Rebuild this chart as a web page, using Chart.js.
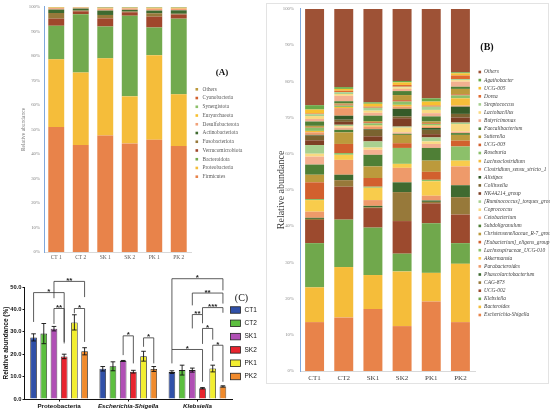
<!DOCTYPE html>
<html>
<head>
<meta charset="utf-8">
<script src="https://cdn.jsdelivr.net/npm/chart.js@4.4.1/dist/chart.umd.min.js"></script>
<style>
  body { margin: 0; background: #fff; width: 550px; height: 413px; overflow: hidden; position: relative; }
  .box { position: absolute; }
  #frameB { position: absolute; left: 266px; top: 3px; width: 281px; height: 379px; border: 1px solid #e3e3e3; }
</style>
</head>
<body>
<div id="frameB"></div>
<div class="box" style="left:0;top:0;width:270px;height:264px"><canvas id="phylum"></canvas></div>
<div class="box" style="left:267px;top:0;width:283px;height:385px"><canvas id="genus"></canvas></div>
<div class="box" style="left:0;top:262px;width:270px;height:151px"><canvas id="sig"></canvas></div>
<script>
// ---- data ----
const samplesA = ['CT 1', 'CT 2', 'SK 1', 'SK 2', 'PK 1', 'PK 2'];
const samplesB = ['CT1', 'CT2', 'SK1', 'SK2', 'PK1', 'PK2'];
const yTicksPct = [0, 10, 20, 30, 40, 50, 60, 70, 80, 90, 100];

// phylum level, bottom to top
const phyla = ['Firmicutes', 'Proteobacteria', 'Bacteroidota', 'Verrucomicrobiota', 'Fusobacteriota',
  'Actinobacteriota', 'Desulfobacterota', 'Euryarchaeota', 'Synergistota', 'Cyanobacteria', 'Others'];
const firmicutes        = [51.0, 43.7, 47.5, 44.3, 45.8, 43.2];
const proteobacteria    = [27.6, 29.5, 31.5, 19.2, 34.5, 21.2];
const bacteroidota      = [13.7, 23.8, 13.0, 32.9, 11.3, 30.8];
const verrucomicrobiota = [2.9, 1.2, 3.3, 1.4, 4.4, 1.7];
const fusobacteriota    = [2.3, 0.3, 1.4, 0.3, 1.4, 0.3];
const actinobacteriota  = [1.4, 0.8, 1.8, 0.7, 1.1, 1.4];
const desulfobacterota  = [0.6, 0.4, 0.8, 0.6, 0.8, 0.7];
const euryarchaeota     = [0.2, 0.1, 0.2, 0.2, 0.3, 0.3];
const synergistota      = [0.1, 0.1, 0.2, 0.2, 0.2, 0.2];
const cyanobacteria     = [0.1, 0.1, 0.1, 0.1, 0.1, 0.1];
const othersA           = [0.1, 0.0, 0.2, 0.1, 0.1, 0.1];
const phylaValues = [firmicutes, proteobacteria, bacteroidota, verrucomicrobiota, fusobacteriota,
  actinobacteriota, desulfobacterota, euryarchaeota, synergistota, cyanobacteria, othersA];
const phylaColors = ['#E8834A', '#F5BD3A', '#72AA4E', '#A0472C', '#97793A', '#3F6A30',
  '#F1A27A', '#F8C030', '#8CC06A', '#D2602E', '#BC9A3C'];

// genus level, bottom to top  [CT1, CT2, SK1, SK2, PK1, PK2]
const genera = ['Escherichia-Shigella', 'Bacteroides', 'Klebsiella', 'UCG-002', 'CAG-873',
  'Phascolarctobacterium', 'Parabacteroides', 'Akkermansia', 'Lachnospiraceae_UCG-010',
  '[Eubacterium]_eligens_group', 'Christensenellaceae_R-7_group', 'Subdoligranulum', 'Cetobacterium',
  'Coprococcus', '[Ruminococcus]_torques_group', 'NK4A214_group', 'Collinsella', 'Alistipes',
  'Clostridium_sensu_stricto_1', 'Lachnoclostridium', 'Roseburia', 'UCG-003', 'Sutterella',
  'Faecalibacterium', 'Butyricimonas', 'Lactobacillus', 'Streptococcus', 'Dorea', 'UCG-005',
  'Agathobacter', 'Others'];
const generaValues = [
  [13.5, 14.8, 17.1, 12.4, 19.2, 13.5],  // Escherichia-Shigella
  [9.6, 13.9, 9.4, 15.1, 7.9, 16.1],     // Bacteroides
  [12.2, 13.1, 13.1, 4.9, 13.7, 5.7],    // Klebsiella
  [6.4, 9.1, 5.4, 9.0, 5.5, 7.9],        // UCG-002
  [0.3, 1.8, 0.2, 8.0, 0.4, 4.8],        // CAG-873
  [0.3, 1.5, 0.4, 2.7, 0.4, 3.3],        // Phascolarctobacterium
  [1.7, 4.1, 1.6, 4.0, 1.3, 5.2],        // Parabacteroides
  [3.2, 1.4, 3.4, 1.1, 4.0, 1.6],        // Akkermansia
  [0.3, 0.5, 0.3, 4.4, 0.4, 3.9],        // Lachnospiraceae_UCG-010
  [4.6, 2.5, 2.4, 1.3, 2.2, 1.6],        // eligens
  [2.1, 3.2, 3.2, 2.3, 3.1, 1.6],        // Christensenellaceae
  [2.8, 0.7, 3.2, 0.3, 3.5, 0.5],        // Subdoligranulum
  [2.2, 0.6, 1.4, 0.4, 1.1, 0.4],        // Cetobacterium
  [0.8, 0.4, 0.6, 1.3, 0.7, 2.1],        // Coprococcus
  [2.4, 0.4, 1.7, 0.3, 1.1, 0.4],        // torques
  [1.3, 0.8, 1.4, 2.3, 0.9, 1.4],        // NK4A214
  [1.3, 0.6, 1.8, 0.5, 1.2, 1.0],        // Collinsella
  [0.2, 1.1, 0.2, 2.1, 0.5, 2.0],        // Alistipes
  [0.7, 2.1, 0.7, 0.6, 0.4, 0.3],        // Clostridium
  [0.4, 0.3, 0.3, 0.5, 0.3, 2.0],        // Lachnoclostridium
  [0.9, 0.4, 0.6, 0.9, 0.4, 0.8],        // Roseburia
  [0.2, 0.3, 0.3, 0.4, 0.2, 0.3],        // UCG-003
  [0.3, 0.3, 0.3, 1.4, 0.5, 1.5],        // Sutterella
  [1.2, 0.6, 1.5, 1.1, 1.4, 0.6],        // Faecalibacterium
  [0.7, 1.5, 0.8, 0.6, 0.9, 1.4],        // Butyricimonas
  [0.8, 0.5, 0.6, 0.4, 0.9, 0.4],        // Lactobacillus
  [0.5, 0.5, 0.8, 0.2, 0.9, 0.3],        // Streptococcus
  [0.2, 0.4, 0.3, 0.5, 0.3, 1.0],        // Dorea
  [1.1, 0.5, 0.8, 0.7, 1.1, 0.6],        // UCG-005
  [1.2, 0.5, 0.4, 0.4, 0.9, 0.3],        // Agathobacter
  [26.6, 21.6, 25.8, 19.9, 24.7, 17.5]   // Others
];
const generaColors = ['#E8834A', '#F5BD3A', '#70A84C', '#9C4A2E', '#97793A', '#3F6A30', '#EE9A6A',
  '#F8CC4C', '#8CC06A', '#D2602E', '#BC9A3C', '#4F7F36', '#F3B090', '#F9DA82', '#A8D090', '#7E3F25',
  '#7A6330', '#355A28', '#EE9A6A', '#F5BD3A', '#8CC06A', '#D2602E', '#BC9A3C', '#4F7F36', '#F3B090',
  '#F9DA82', '#A8D090', '#E06A30', '#F8C030', '#6AAA48', '#9E5236'];

// relative abundance (%) of selected taxa, mean and error
const taxaC = ['Proteobacteria', 'Escherichia-Shigella', 'Klebsiella'];
const groupsC = ['CT1', 'CT2', 'SK1', 'SK2', 'PK1', 'PK2'];
const meanC = [
  [27.5, 13.5, 12.0],  // CT1
  [29.2, 14.6, 12.9],  // CT2
  [31.4, 17.0, 12.9],  // SK1
  [19.0, 12.2, 4.8],   // SK2
  [34.2, 19.1, 13.6],  // PK1
  [21.3, 13.4, 5.6]    // PK2
];
const errC = [
  [1.6, 1.0, 0.6],
  [4.5, 2.0, 2.2],
  [1.0, 0.2, 0.9],
  [1.0, 0.6, 0.3],
  [3.4, 2.2, 1.5],
  [1.6, 1.1, 0.3]
];
const colorsC = ['#3050A8', '#5CBF3F', '#B050B5', '#E8242E', '#F2EE30', '#F08A2C'];
const yTicksC = [0, 10, 20, 30, 40, 50];
// [taxon index, group a, group b, label, bracket height, leg a bottom, leg b bottom]
const brackets = [
  [0, 0, 3, '*', 47.5, 34.4, 24.8],
  [0, 2, 5, '**', 52.5, 45.0, 45.5],
  [0, 2, 3, '**', 40.4, 33.5, 25.5],
  [0, 4, 5, '*', 40.4, 38.3, 25.5],
  [1, 2, 3, '*', 28.2, 19.6, 15.9],
  [1, 4, 5, '*', 27.3, 23.3, 15.9],
  [2, 0, 5, '*', 53.7, 22.1, 48.5],
  [2, 2, 5, '**', 47.3, 41.8, 42.6],
  [2, 3, 5, '***', 40.8, 37.7, 38.5],
  [2, 2, 3, '**', 37.7, 31.5, 33.8],
  [2, 3, 4, '*', 31.5, 24.6, 26.5],
  [2, 4, 5, '*', 24.0, 17.0, 7.7],
  [2, 0, 3, '*', 22.1, 15.9, 7.7]
];

const serif = 'Liberation Serif';
const sans = 'Liberation Sans';

// legend drawn beside the plot, top entry = last dataset
const sideLegend = {
  id: 'sideLegend',
  afterDraw(chart, args, o) {
    const ctx = chart.ctx;
    const sets = o.reverse ? chart.data.datasets.slice().reverse() : chart.data.datasets;
    ctx.save();
    ctx.textBaseline = 'middle';
    ctx.textAlign = 'left';
    ctx.font = o.font;
    sets.forEach((ds, i) => {
      const y = o.y + i * o.gap;
      ctx.fillStyle = ds.backgroundColor;
      ctx.fillRect(o.x, y - o.bh / 2, o.bw, o.bh);
      if (o.stroke) {
        ctx.strokeStyle = o.stroke;
        ctx.lineWidth = 0.8;
        ctx.strokeRect(o.x, y - o.bh / 2, o.bw, o.bh);
      }
      ctx.fillStyle = o.color;
      ctx.fillText(ds.label, o.x + o.bw + o.textGap, y);
    });
    if (o.title) {
      ctx.font = o.titleFont;
      ctx.fillStyle = '#111';
      ctx.textAlign = 'center';
      ctx.fillText(o.title, o.tx, o.ty);
    }
    ctx.restore();
  }
};

// --- (A) phylum ---
new Chart(document.getElementById('phylum'), {
  type: 'bar',
  data: {
    labels: samplesA,
    datasets: phyla.map((p, i) => ({
      label: p, data: phylaValues[i], backgroundColor: phylaColors[i],
      barPercentage: 0.65, categoryPercentage: 1
    }))
  },
  options: {
    responsive: true, maintainAspectRatio: false, animation: false,
    layout: { padding: { top: 5, right: 79 } },
    plugins: {
      legend: { display: false }, tooltip: { enabled: false },
      sideLegend: {
        x: 195.5, y: 89.3, gap: 8.74, bw: 2.6, bh: 2.6, textGap: 4.5, reverse: true,
        font: '5.3px "Liberation Serif"', color: '#595959',
        title: '(A)', titleFont: 'bold 9px "Liberation Serif"', tx: 222, ty: 73
      }
    },
    scales: {
      x: {
        stacked: true, grid: { display: false, drawTicks: false }, border: { color: '#d9d9d9' },
        ticks: { font: { family: serif, size: 5.5 }, color: '#595959', padding: 2 },
        afterFit: s => { s.height = 12; }
      },
      y: {
        stacked: true, min: 0, max: 100,
        afterBuildTicks: s => { s.ticks = yTicksPct.map(v => ({ value: v })); },
        ticks: { callback: v => v + '%', font: { family: serif, size: 4.8 }, color: '#808080', padding: 4 },
        grid: { display: false, drawTicks: false },
        border: { color: '#7fa8dc', dash: [2, 2] },
        title: { display: true, text: 'Relative abundance', font: { family: serif, size: 5.5 }, color: '#7f7f7f', padding: { top: 20.5, bottom: 0 } },
        afterFit: s => { s.width = 44; }
      }
    }
  },
  plugins: [sideLegend]
});

// --- (B) genus ---
new Chart(document.getElementById('genus'), {
  type: 'bar',
  data: {
    labels: samplesB,
    datasets: genera.map((g, i) => ({
      label: g, data: generaValues[i], backgroundColor: generaColors[i],
      barPercentage: 0.65, categoryPercentage: 1
    }))
  },
  options: {
    responsive: true, maintainAspectRatio: false, animation: false,
    layout: { padding: { top: 5, right: 75 } },
    plugins: {
      legend: { display: false }, tooltip: { enabled: false },
      sideLegend: {
        x: 211.5, y: 72, gap: 8.1, bw: 2.6, bh: 2.6, textGap: 3, reverse: true,
        font: 'italic 5.4px "Liberation Serif"', color: '#404040',
        title: '(B)', titleFont: 'bold 10px "Liberation Serif"', tx: 220, ty: 47
      }
    },
    scales: {
      x: {
        stacked: true, grid: { display: false, drawTicks: false }, border: { color: '#d9d9d9' },
        ticks: { font: { family: serif, size: 7 }, color: '#404040', padding: 3 },
        afterFit: s => { s.height = 14; }
      },
      y: {
        stacked: true, min: 0, max: 100,
        afterBuildTicks: s => { s.ticks = yTicksPct.map(v => ({ value: v })); },
        ticks: { callback: v => v + '%', font: { family: serif, size: 4.8 }, color: '#8c8c8c', padding: 6 },
        grid: { display: false, drawTicks: false },
        border: { color: '#7fa8dc', dash: [2, 2] },
        title: { display: true, text: 'Relative abundance', font: { family: serif, size: 10 }, color: '#404040', padding: { top: 8, bottom: 0 } },
        afterFit: s => { s.width = 33; }
      }
    }
  },
  plugins: [sideLegend]
});

// --- (C) significance chart ---
const errorBars = {
  id: 'errorBars',
  afterDatasetsDraw(chart) {
    const ctx = chart.ctx, y = chart.scales.y;
    ctx.save();
    ctx.strokeStyle = '#111';
    ctx.lineWidth = 0.9;
    chart.data.datasets.forEach((ds, i) => {
      chart.getDatasetMeta(i).data.forEach((el, j) => {
        const m = ds.data[j], e = errC[i][j];
        const t = y.getPixelForValue(m + e), b = y.getPixelForValue(m - e);
        const w = el.width * 0.35;
        ctx.beginPath();
        ctx.moveTo(el.x, t); ctx.lineTo(el.x, b);
        ctx.moveTo(el.x - w, t); ctx.lineTo(el.x + w, t);
        ctx.moveTo(el.x - w, b); ctx.lineTo(el.x + w, b);
        ctx.stroke();
      });
    });
    ctx.restore();
  }
};
const sigBrackets = {
  id: 'sigBrackets',
  afterDraw(chart) {
    const ctx = chart.ctx, y = chart.scales.y;
    ctx.save();
    ctx.strokeStyle = '#333';
    ctx.lineWidth = 0.8;
    ctx.fillStyle = '#222';
    ctx.font = 'bold 8px "Liberation Sans"';
    ctx.textAlign = 'center';
    ctx.textBaseline = 'alphabetic';
    brackets.forEach(([t, a, b, lab, h, la, lb]) => {
      const xa = chart.getDatasetMeta(a).data[t].x;
      const xb = chart.getDatasetMeta(b).data[t].x;
      const yh = y.getPixelForValue(h);
      ctx.beginPath();
      ctx.moveTo(xa, y.getPixelForValue(la));
      ctx.lineTo(xa, yh);
      ctx.lineTo(xb, yh);
      ctx.lineTo(xb, y.getPixelForValue(lb));
      ctx.stroke();
      ctx.fillText(lab, (xa + xb) / 2, yh + 1.5);
    });
    ctx.restore();
  }
};

new Chart(document.getElementById('sig'), {
  type: 'bar',
  data: {
    labels: taxaC,
    datasets: groupsC.map((g, i) => ({
      label: g, data: meanC[i], backgroundColor: colorsC[i],
      borderColor: '#222', borderWidth: 0.8,
      barPercentage: 0.65, categoryPercentage: 0.885
    }))
  },
  options: {
    responsive: true, maintainAspectRatio: false, animation: false,
    layout: { padding: { top: 25, right: 38 } },
    plugins: {
      legend: { display: false }, tooltip: { enabled: false },
      sideLegend: {
        x: 230.5, y: 48, gap: 13.3, bw: 10, bh: 6.5, textGap: 4, reverse: false, stroke: '#222',
        font: '6.5px "Liberation Sans"', color: '#111',
        title: '(C)', titleFont: '10px "Liberation Serif"', tx: 241.5, ty: 36
      }
    },
    scales: {
      x: {
        grid: { drawOnChartArea: false, drawTicks: true, tickLength: 2.5, offset: false, color: '#111' },
        border: { color: '#111', width: 1 },
        ticks: {
          font: c => ({ family: sans, size: 6.2, weight: 'bold', style: c.index === 0 ? 'normal' : 'italic' }),
          color: '#111', padding: 1.5, maxRotation: 0, minRotation: 0, autoSkip: false
        },
        afterFit: s => { s.height = 14; }
      },
      y: {
        min: 0, max: 50,
        afterBuildTicks: s => { s.ticks = yTicksC.map(v => ({ value: v })); },
        ticks: { callback: v => v.toFixed(1), font: { family: sans, size: 5.8, weight: 'bold' }, color: '#111', padding: 1 },
        grid: { drawOnChartArea: false, drawTicks: true, tickLength: 2, color: '#111' },
        border: { color: '#111', width: 1 },
        title: { display: true, text: 'Relative abundance (%)', font: { family: sans, size: 6.5, weight: 'bold' }, color: '#111', padding: { top: 2, bottom: 0 } },
        afterFit: s => { s.width = 24.5; }
      }
    }
  },
  plugins: [errorBars, sigBrackets, sideLegend]
});
</script>
</body>
</html>
